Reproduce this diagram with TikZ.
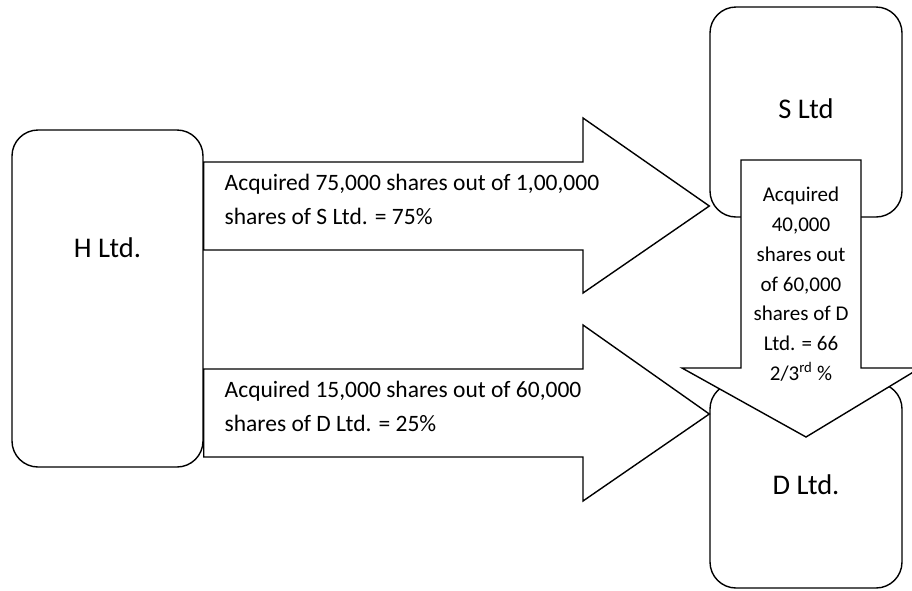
\documentclass[tikz,border=0pt]{standalone}
\usepackage{fontspec}
\setmainfont{Carlito}
\usetikzlibrary{calc}

\begin{document}
\begin{tikzpicture}[x=1pt, y=-1pt, line width=1.4pt,
    company/.style={draw, rounded corners=26pt, fill=white, minimum width=192pt, inner sep=0pt},
    blockarrow/.style={draw, fill=white},
    firmname/.style={font=\fontsize{28.5}{34}\selectfont, anchor=base, inner sep=0pt},
    note/.style={font=\fontsize{23.5}{34}\selectfont, align=left, anchor=base west, inner sep=0pt}]

  \useasboundingbox (0,0) rectangle (912,590);

  % companies
  \node[company, minimum width=191pt, minimum height=337pt] (h) at (107.5,298.5) {};
  \node[company, minimum height=210pt] (s) at (806,112) {};
  \node[company, minimum height=205pt] (d) at (806,485.5) {};
  \node[firmname] (hname) at (107.5,257) {H Ltd.};
  \node[firmname] (sname) at (806,118) {S Ltd};
  \node[firmname] (dname) at (806,494) {D Ltd.};

  % holdings of H Ltd.
  \draw[blockarrow] (h.east |- 0,162) -- (583,162) -- (583,118) -- (s.west |- 0,206)
    -- (583,293) -- (583,250) -- (h.east |- 0,250) -- cycle;
  \draw[blockarrow] (h.east |- 0,369) -- (583,369) -- (583,325) -- (d.west |- 0,414)
    -- (583,501) -- (583,457) -- (h.east |- 0,457) -- cycle;
  \node[note] (hs) at (224,224) {Acquired 75,000 shares out of 1,00,000\\shares of S Ltd. = 75\%};
  \node[note] (hd) at (224,431.3) {Acquired 15,000 shares out of 60,000\\shares of D Ltd. = 25\%};

  % holding of S Ltd.
  \draw[blockarrow] (741,160) -- (861,160) -- (861,368) -- (920,368) -- (d.north |- 0,437)
    -- (682,368) -- (741,368) -- cycle;
  \node[font=\fontsize{21}{29.8}\selectfont, align=center, anchor=base, inner sep=0pt] (sd)
    at (801,380.5) {Acquired\\40,000\\shares out\\of 60,000\\shares of D\\Ltd. = 66\\2/3\textsuperscript{rd} \%};
\end{tikzpicture}
\end{document}
